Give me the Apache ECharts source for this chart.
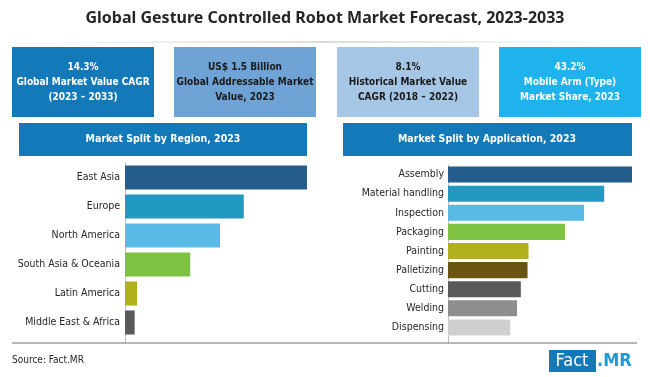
<!DOCTYPE html>
<html>
<head>
<meta charset="utf-8">
<script src="https://cdn.jsdelivr.net/npm/echarts@6/dist/echarts.min.js"></script>
<style>
  html, body { margin: 0; padding: 0; background: #fff; }
  #chart { width: 650px; height: 377px; }
</style>
</head>
<body>
<div id="chart"></div>
<script>
// market split by region, 2023 (share, %)
var regions = ['East Asia', 'Europe', 'North America', 'South Asia & Oceania', 'Latin America', 'Middle East & Africa'];
var regionShare = [37.7, 24.6, 19.7, 13.5, 2.5, 2.0];
var regionColors = ['#245c8c', '#2299c0', '#5abae6', '#7dc242', '#b0b11c', '#5a5a5a'];

// market split by application, 2023 (share, %)
var applications = ['Assembly', 'Material handling', 'Inspection', 'Packaging', 'Painting', 'Palletizing', 'Cutting', 'Welding', 'Dispensing'];
var applicationShare = [19.2, 16.3, 14.2, 12.2, 8.4, 8.3, 7.6, 7.2, 6.5];
var applicationColors = ['#245c8c', '#2299c0', '#5abae6', '#7dc242', '#b0b11c', '#6a5412', '#5a5a5a', '#8e8e8e', '#cfcfcf'];

// kpi boxes
var kpiLines = [
    ['14.3%', 'Global Market Value CAGR', '(2023 – 2033)'],
    ['US$ 1.5 Billion', 'Global Addressable Market', 'Value, 2023'],
    ['8.1%', 'Historical Market Value', 'CAGR (2018 – 2022)'],
    ['43.2%', 'Mobile Arm (Type)', 'Market Share, 2023']
];
var kpiColors = ['#1479b8', '#6fa3d6', '#a6c6e6', '#1eb3ec'];
var kpiText = ['#fff', '#1a1a1a', '#1a1a1a', '#fff'];
var kpiX = [12, 174, 337, 499];

var narrow = '"Liberation Sans Narrow", "DejaVu Sans Condensed", "Noto Sans", sans-serif';

var chart = echarts.init(document.getElementById('chart'));

var graphics = [
    {
        type: 'text', left: 'center', top: 10,
        style: { text: 'Global Gesture Controlled Robot Market Forecast, 2023-2033', font: 'bold 16px "Noto Sans", sans-serif', fill: '#262626' }
    },
    {
        type: 'line', shape: { x1: 30, y1: 42, x2: 620, y2: 42 },
        style: {
            lineWidth: 1,
            stroke: new echarts.graphic.LinearGradient(0, 0, 1, 0, [
                { offset: 0, color: 'rgba(190,190,190,0)' },
                { offset: 0.5, color: '#b8b8b8' },
                { offset: 1, color: 'rgba(190,190,190,0)' }
            ])
        }
    },
    // section headers
    { type: 'rect', shape: { x: 19, y: 123, width: 288, height: 33 }, style: { fill: '#1479b8' } },
    { type: 'text', x: 163, y: 139, style: { text: 'Market Split by Region, 2023', font: 'bold 10.5px ' + narrow, fill: '#fff', align: 'center', verticalAlign: 'middle' } },
    { type: 'rect', shape: { x: 343, y: 123, width: 289, height: 33 }, style: { fill: '#1479b8' } },
    { type: 'text', x: 487, y: 139, style: { text: 'Market Split by Application, 2023', font: 'bold 10.5px ' + narrow, fill: '#fff', align: 'center', verticalAlign: 'middle' } },
    // axis lines run down to the bottom rule
    { type: 'line', shape: { x1: 125.5, y1: 337, x2: 125.5, y2: 343 }, style: { stroke: '#bfbfbf', lineWidth: 1 } },
    { type: 'line', shape: { x1: 448.5, y1: 337, x2: 448.5, y2: 343 }, style: { stroke: '#bfbfbf', lineWidth: 1 } },
    // bottom rule and footer
    { type: 'line', shape: { x1: 12, y1: 343, x2: 637, y2: 343 }, style: { stroke: '#6f6f6f', lineWidth: 1 } },
    { type: 'text', x: 12, y: 360, style: { text: 'Source: Fact.MR', font: '10px ' + narrow, fill: '#262626', verticalAlign: 'middle' } },
    { type: 'rect', shape: { x: 549, y: 350, width: 47, height: 22 }, style: { fill: '#1479b8' } },
    { type: 'text', x: 572, y: 361, style: { text: 'Fact', font: '18px ' + narrow, fill: '#fff', align: 'center', verticalAlign: 'middle' } },
    { type: 'text', x: 597, y: 361, style: { text: '.MR', font: 'bold 18px ' + narrow, fill: '#1f9ad6', verticalAlign: 'middle' } }
];

kpiLines.forEach(function (lines, i) {
    graphics.push({ type: 'rect', shape: { x: kpiX[i], y: 47, width: 142, height: 70 }, style: { fill: kpiColors[i] } });
    graphics.push({
        type: 'text', x: kpiX[i] + 71, y: 82,
        style: { text: lines.join('\n'), font: 'bold 10px ' + narrow, lineHeight: 15, fill: kpiText[i], align: 'center', verticalAlign: 'middle' }
    });
});

var option = {
    animation: false,
    graphic: graphics,
    grid: [
        { left: 125, top: 163, width: 182, height: 174 },
        { left: 448, top: 165, width: 184, height: 172 }
    ],
    xAxis: [
        { type: 'value', gridIndex: 0, min: 0, max: 37.7, show: false },
        { type: 'value', gridIndex: 1, min: 0, max: 19.2, show: false }
    ],
    yAxis: [
        {
            type: 'category', gridIndex: 0, data: regions, inverse: true,
            axisLine: { lineStyle: { color: '#bfbfbf' } }, axisTick: { show: false },
            axisLabel: { color: '#262626', fontSize: 10.5, fontFamily: narrow, margin: 5 }
        },
        {
            type: 'category', gridIndex: 1, data: applications, inverse: true,
            axisLine: { lineStyle: { color: '#bfbfbf' } }, axisTick: { show: false },
            axisLabel: { color: '#262626', fontSize: 10.5, fontFamily: narrow, margin: 4 }
        }
    ],
    series: [
        {
            type: 'bar', xAxisIndex: 0, yAxisIndex: 0, barCategoryGap: '17%',
            data: regionShare.map(function (v, i) { return { value: v, itemStyle: { color: regionColors[i] } }; })
        },
        {
            type: 'bar', xAxisIndex: 1, yAxisIndex: 1, barCategoryGap: '16%',
            data: applicationShare.map(function (v, i) { return { value: v, itemStyle: { color: applicationColors[i] } }; })
        }
    ]
};

chart.setOption(option);
</script>
</body>
</html>
